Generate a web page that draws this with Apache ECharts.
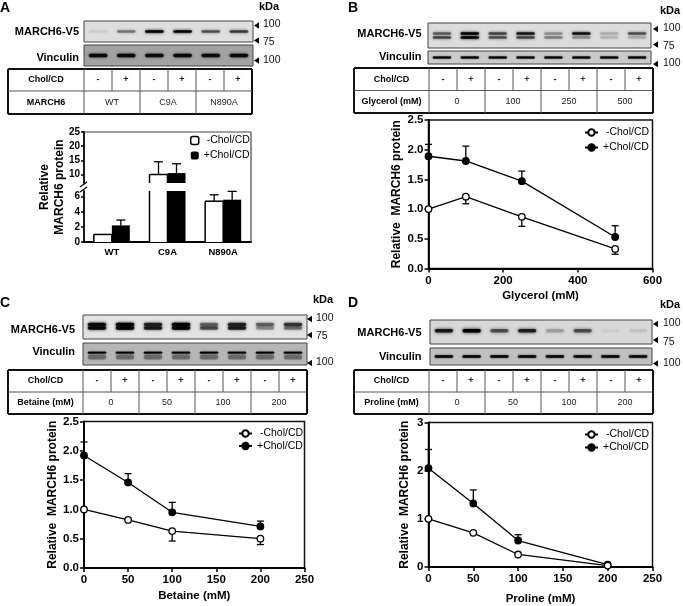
<!DOCTYPE html>
<html><head><meta charset="utf-8">
<style>html,body{margin:0;padding:0;background:#fff}#c{width:683px;height:606px}</style>
<script src="https://cdn.jsdelivr.net/npm/echarts@6/dist/echarts.min.js"></script>
</head><body><div id="c"></div>
<script>
// ---------- DATA ----------
const cholLabels = ['-', '+'];
const legendMinus = '-Chol/CD', legendPlus = '+Chol/CD';
// Panel A bars
const aCats = ['WT', 'C9A', 'N890A'];
const aMinus = [1, 10, 5.4];
const aPlus = [2.2, 10.5, 5.6];
const aMinusHigh = [null, 14.5, 6.25];
const aPlusHigh = [2.9, 13.8, 6.7];
// Panel B
const bX = [0, 100, 250, 500];
const bMinus = [1, 1.21, 0.87, 0.33];
const bPlus = [1.89, 1.81, 1.47, 0.53];
const bMinusErr = [null, 1.09, 0.71, 0.24];
const bPlusErr = [2.09, 2.06, 1.64, 0.72];
// Panel C
const cX = [0, 50, 100, 200];
const cMinus = [1, 0.82, 0.63, 0.5];
const cPlus = [1.92, 1.46, 0.95, 0.71];
const cMinusErr = [null, null, 0.46, 0.4];
const cPlusErr = [2.15, 1.61, 1.12, 0.8];
// Panel D
const dX = [0, 50, 100, 200];
const dMinus = [1, 0.71, 0.26, 0.03];
const dPlus = [2.05, 1.32, 0.55, 0.05];
const dMinusErr = [null, null, null, null];
const dPlusErr = [2.44, 1.6, 0.67, null];
// Blot band darkness per lane
const aMarch = [0.05, 0.35, 1, 0.95, 0.5, 0.6];
const aVinc = [0.85, 0.85, 0.8, 0.85, 0.8, 0.85];
const bMarchUp = [0.45, 1, 0.55, 0.8, 0.25, 0.85, 0.15, 0.5];
const bMarchLo = [0.55, 1, 0.5, 0.55, 0.3, 0.25, 0.12, 0.15];
const bVinc = [1, 1, 1, 1, 1, 1, 1, 1];
const cMarchUp = [0.85, 1, 0.7, 1, 0.4, 0.7, 0.4, 0.6];
const cMarchLo = [0.9, 1, 0.75, 1, 0.5, 0.75, 0.25, 0.35];
const cVinc = [1, 1, 1, 1, 1, 1, 1, 1];
const cVincLo = [0.25, 0.25, 0.25, 0.25, 0.25, 0.25, 0.25, 0.25];
const dMarch = [0.8, 1, 0.5, 0.75, 0.18, 0.5, 0.03, 0.06];
const dVinc = [0.9, 0.9, 0.9, 0.9, 0.9, 0.9, 0.9, 0.9];
// Tables
const aConds = ['WT', 'C9A', 'N890A'];
const bConds = ['0', '100', '250', '500'];
const cConds = ['0', '50', '100', '200'];
const dConds = ['0', '50', '100', '200'];

// ---------- OPTION BUILDERS ----------
const FF = '"Liberation Sans", Arial, sans-serif';
const grids = [], xAxes = [], yAxes = [], series = [], legends = [], g = [];

function text(x, y, s, font, align, color, rot) {
  g.push({ type: 'text', x, y, rotation: rot || 0, z: 50, silent: true,
    style: { text: s, font: font + ' ' + FF, fill: color || '#000', align: align || 'center', verticalAlign: 'middle' } });
}
function line(x1, y1, x2, y2, w, color) {
  g.push({ type: 'line', z: 40, silent: true, shape: { x1, y1, x2, y2 }, style: { stroke: color || '#111', lineWidth: w } });
}
function arrow(x, y) {
  g.push({ type: 'polygon', z: 40, silent: true, shape: { points: [[x, y], [x + 5, y - 3.2], [x + 5, y + 3.2]] }, style: { fill: '#000' } });
}

function blot(rect, bg, rows) {
  const gi = grids.length;
  grids.push({ left: rect[0], top: rect[1], width: rect[2] - rect[0], height: rect[3] - rect[1], show: true,
    backgroundColor: bg, borderColor: '#444', borderWidth: 1 });
  const n = rows[0].vals.length;
  xAxes.push({ gridIndex: gi, type: 'category', show: false, data: Array.from({ length: n }, (_, i) => i) });
  yAxes.push({ gridIndex: gi, type: 'value', show: false, min: 0, max: 1 });
  rows.forEach(r => {
    series.push({ type: 'custom', xAxisIndex: gi, yAxisIndex: gi, silent: true, z: 3,
      data: r.vals.map((v, i) => [i, r.y, v]),
      renderItem: (p, api) => {
        const c = api.coord([api.value(0), api.value(1)]);
        const w = api.size([1, 0])[0] * 0.66, h = r.h;
        return { type: 'rect', shape: { x: c[0] - w / 2, y: c[1] - h / 2, width: w, height: h, r: h / 2 },
          style: { fill: '#000', opacity: api.value(2), shadowBlur: r.blur, shadowColor: '#000' } };
      } });
  });
}

function errSeries(gi, items, off, cap) {
  return { type: 'custom', xAxisIndex: gi, yAxisIndex: gi, silent: true, z: 1, clip: false,
    data: items,
    renderItem: (p, api) => {
      const a = api.coord([api.value(0), api.value(1)]);
      const b = api.coord([api.value(0), api.value(2)]);
      const dx = off ? off : 0;
      const st = { stroke: '#000', lineWidth: 1.3, fill: null };
      return { type: 'group', children: [
        { type: 'line', shape: { x1: a[0] + dx, y1: a[1], x2: b[0] + dx, y2: b[1] }, style: st },
        { type: 'line', shape: { x1: b[0] + dx - cap, y1: b[1], x2: b[0] + dx + cap, y2: b[1] }, style: st }
      ] };
    } };
}

function table(L, colX, R, T, mid, B, labelRow2, conds) {
  const lane = (R - colX) / (conds.length * 2);
  line(L, T, R, T, 2); line(L, B, R, B, 2); line(L, T, L, B, 2); line(R, T, R, B, 2);
  line(L, mid, R, mid, 1, '#555'); line(colX, T, colX, B, 1, '#555');
  for (let i = 1; i < conds.length * 2; i++) {
    line(colX + i * lane, T, colX + i * lane, i % 2 ? mid : B, 1, '#555');
  }
  const cx = (L + colX) / 2;
  text(cx, (T + mid) / 2, 'Chol/CD', 'bold 9px');
  text(cx, (mid + B) / 2, labelRow2, 'bold 9px');
  conds.forEach((c, i) => {
    text(colX + (i * 2 + 0.5) * lane, (T + mid) / 2, cholLabels[0], 'bold 9px', 'center', '#222');
    text(colX + (i * 2 + 1.5) * lane, (T + mid) / 2, cholLabels[1], 'bold 9px', 'center', '#222');
    text(colX + (i * 2 + 1) * lane, (mid + B) / 2, c, '9px', 'center', '#222');
  });
}

const tickStyle = { show: true, length: 4, inside: false, lineStyle: { color: '#000', width: 1.5 } };
const lineStyle = { show: true, onZero: false, lineStyle: { color: '#000', width: 1.8 } };
const labelStyle = { color: '#000', fontFamily: FF, fontWeight: 'bold', fontSize: 11.5, margin: 6 };

function linePanel(id, rect, xs, minus, plus, minusErr, plusErr, xCfg, yCfg, xName, nameGapY, nameGapX, legendPos, legendGap) {
  const gi = grids.length;
  grids.push({ left: rect[0], top: rect[1], width: rect[2] - rect[0], height: rect[3] - rect[1], show: true,
    backgroundColor: 'transparent', borderColor: '#111', borderWidth: 1.5 });
  xAxes.push({ gridIndex: gi, type: 'value', min: 0, max: xCfg[0], interval: xCfg[1], splitLine: { show: false },
    axisLine: lineStyle, axisTick: tickStyle, axisLabel: labelStyle,
    name: xName, nameLocation: 'middle', nameGap: nameGapX,
    nameTextStyle: { color: '#000', fontFamily: FF, fontWeight: 'bold', fontSize: 11.5 } });
  yAxes.push({ gridIndex: gi, type: 'value', min: 0, max: yCfg[0], interval: yCfg[1], splitLine: { show: false },
    axisLine: lineStyle, axisTick: tickStyle,
    axisLabel: Object.assign({}, labelStyle, { margin: 5, formatter: v => yCfg[2] ? v.toFixed(yCfg[2]) : String(v) }),
    name: 'Relative  MARCH6 protein', nameLocation: 'middle', nameGap: nameGapY, nameRotate: 90, nameMoveOverlap: false,
    nameTextStyle: { color: '#000', fontFamily: FF, fontWeight: 'bold', fontSize: 12 } });
  const errs = (arr, v) => arr.map((e, i) => e === null ? null : [xs[i], v[i], e]).filter(Boolean);
  series.push(errSeries(gi, errs(minusErr, minus), 0, 3.5));
  series.push(errSeries(gi, errs(plusErr, plus), 0, 3.5));
  const mk = (nm, v, fill) => ({ name: id + '|' + nm, type: 'line', xAxisIndex: gi, yAxisIndex: gi, clip: false, z: fill === '#000' ? 3 : 4,
    data: xs.map((x, i) => [x, v[i]]), symbol: 'circle', symbolSize: 6.5, showSymbol: true,
    lineStyle: { color: '#000', width: 1.3 }, itemStyle: { color: fill, borderColor: '#000', borderWidth: 1.3 } });
  series.push(mk(legendMinus, minus, '#fff'));
  series.push(mk(legendPlus, plus, '#000'));
  legends.push({ orient: 'vertical', left: legendPos[0], top: legendPos[1], padding: 0, itemWidth: 13, itemHeight: 8, itemGap: legendGap,
    data: [id + '|' + legendMinus, id + '|' + legendPlus],
    formatter: n => { const t = n.split('|')[1]; return t === legendMinus ? ' ' + t : t; },
    textStyle: { color: '#000', fontFamily: FF, fontSize: 10.5 }, selectedMode: false });
}

// ---------- PANEL A ----------
blot([84, 21, 253, 42], '#dedede', [{ y: 0.5, h: 2.5, blur: 3, vals: aMarch }]);
blot([84, 45, 253, 66], '#a2a2a2', [{ y: 0.5, h: 3.5, blur: 2.5, vals: aVinc }]);
table(8, 84, 252, 69, 91, 114, 'MARCH6', aConds);

function barGrid(top, bottom, min, max, showX, customTicks) {
  const gi = grids.length;
  grids.push({ left: 84, top, width: 167, height: bottom - top });
  const aLabel = Object.assign({}, labelStyle, { fontSize: 10, margin: 4 });
  xAxes.push({ gridIndex: gi, type: 'category', data: aCats, show: showX,
    axisLine: lineStyle, axisTick: { show: false }, axisLabel: Object.assign({}, labelStyle, { fontSize: 9.5, margin: 5 }) });
  yAxes.push({ gridIndex: gi, type: 'value', min, max, splitLine: { show: false },
    interval: customTicks ? undefined : 2,
    axisLine: lineStyle,
    axisTick: Object.assign({}, tickStyle, { length: 3 }, customTicks ? { customValues: customTicks } : {}),
    axisLabel: Object.assign({}, aLabel, customTicks ? { customValues: customTicks } : {}) });
  const mk = (nm, v, fill) => ({ name: 'A|' + nm, type: 'bar', xAxisIndex: gi, yAxisIndex: gi, data: v, barWidth: 18, barGap: '0%', z: 2,
    itemStyle: { color: fill, borderWidth: 0 } });
  series.push(mk(legendMinus, aMinus, '#fff'));
  series.push(mk(legendPlus, aPlus, '#000'));
  // outline of the white bars: open where a bar runs across the axis break
  series.push({ type: 'custom', xAxisIndex: gi, yAxisIndex: gi, silent: true, z: 3, clip: false,
    data: aMinus.map((v, i) => [i, v]),
    renderItem: (p, api) => {
      const v = api.value(1);
      if (v < min) return null;
      const c0 = api.coord([api.value(0), Math.max(min, 0)]), c1 = api.coord([api.value(0), Math.min(v, max)]);
      const xl = c0[0] - 18, xr = c0[0], st = { stroke: '#000', lineWidth: 1.5, fill: null };
      const ch = [
        { type: 'line', shape: { x1: xl, y1: c0[1], x2: xl, y2: c1[1] }, style: st },
        { type: 'line', shape: { x1: xr, y1: c0[1], x2: xr, y2: c1[1] }, style: st }];
      if (v <= max) ch.push({ type: 'line', shape: { x1: xl, y1: c1[1], x2: xr, y2: c1[1] }, style: st });
      return { type: 'group', children: ch };
    } });
  const inRange = h => h !== null && h >= min && h <= max;
  const items = (hs, v) => hs.map((h, i) => inRange(h) ? [i, v[i], h] : null).filter(Boolean);
  series.push(errSeries(gi, items(aMinusHigh, aMinus), -9, 4.5));
  series.push(errSeries(gi, items(aPlusHigh, aPlus), 9, 4.5));
}
barGrid(191, 242, 0, 6.75, true, null);
barGrid(132, 183, 7, 25, false, [10, 15, 20, 25]);
legends.push({ orient: 'vertical', left: 190, top: 135, padding: 0, itemWidth: 8, itemHeight: 8, itemGap: 4,
  data: [{ name: 'A|' + legendMinus, itemStyle: { color: '#fff', borderColor: '#000', borderWidth: 1.5 } }, { name: 'A|' + legendPlus }],
  formatter: n => { const t = n.split('|')[1]; return t === legendMinus ? ' ' + t : t; },
  textStyle: { color: '#000', fontFamily: FF, fontSize: 10.5 }, selectedMode: false });
line(84, 132, 251, 132, 1.2, '#444'); line(251, 132, 251, 242, 1.2, '#444');
line(80, 187, 87, 182, 1.2, '#000'); line(80, 192, 87, 187, 1.2, '#000');
text(45, 187, 'Relative', 'bold 12px', 'center', '#000', Math.PI / 2);
text(60, 187, 'MARCH6 protein', 'bold 12px', 'center', '#000', Math.PI / 2);

// ---------- PANEL B ----------
blot([428, 23, 651, 48], '#dcdcdc', [{ y: 0.58, h: 2.5, blur: 3, vals: bMarchUp }, { y: 0.42, h: 2.5, blur: 3, vals: bMarchLo }]);
blot([428, 51, 651, 64], '#cacaca', [{ y: 0.5, h: 2, blur: 1.5, vals: bVinc }]);
table(354, 429, 653, 68, 90.5, 113, 'Glycerol (mM)', bConds);
linePanel('B', [428.5, 120, 652.5, 268.5], bX, bMinus, bPlus, bMinusErr, bPlusErr, [600, 200], [2.5, 0.5, 1], 'Glycerol (mM)', 26, 21, [584, 127], 4);

// ---------- PANEL C ----------
blot([83, 315, 307, 339], '#e2e2e2', [{ y: 0.6, h: 3.5, blur: 3, vals: cMarchUp }, { y: 0.46, h: 3.5, blur: 3, vals: cMarchLo }]);
blot([83, 343, 307, 365], '#b6b6b6', [{ y: 0.56, h: 1.8, blur: 1.5, vals: cVinc }, { y: 0.36, h: 5, blur: 2, vals: cVincLo }]);
table(8, 83, 307, 370, 392, 414, 'Betaine (mM)', cConds);
linePanel('C', [84, 421.5, 304.5, 568], cX, cMinus, cPlus, cMinusErr, cPlusErr, [250, 50], [2.5, 0.5, 1], 'Betaine (mM)', 25, 22, [238, 428], 1.5);

// ---------- PANEL D ----------
blot([430, 320, 652, 344], '#d8d8d8', [{ y: 0.55, h: 3.5, blur: 3.5, vals: dMarch }]);
blot([430, 348, 652, 365], '#c0c0c0', [{ y: 0.5, h: 2.5, blur: 2, vals: dVinc }]);
table(354, 429, 653, 370, 392, 414, 'Proline (mM)', dConds);
linePanel('D', [428.5, 422.5, 652.5, 571.5], dX, dMinus, dPlus, dMinusErr, dPlusErr, [250, 50], [3, 1, 0], 'Proline (mM)', 18, 26, [584, 429], 2);

// ---------- LABELS & MARKERS ----------
const LB = 'bold 11px';
text(0, 8, 'A', 'bold 14px', 'left'); text(348, 8, 'B', 'bold 14px', 'left');
text(0, 303, 'C', 'bold 14px', 'left'); text(348, 303, 'D', 'bold 14px', 'left');
text(269, 6.5, 'kDa', 'bold 11px'); text(670, 11, 'kDa', 'bold 11px');
text(323, 300, 'kDa', 'bold 11px'); text(670, 305, 'kDa', 'bold 11px');
text(79, 32, 'MARCH6-V5', LB, 'right'); text(79, 58, 'Vinculin', LB, 'right');
text(421.5, 34, 'MARCH6-V5', LB, 'right'); text(421.5, 57, 'Vinculin', LB, 'right');
text(75, 329.5, 'MARCH6-V5', LB, 'right'); text(75, 352, 'Vinculin', LB, 'right');
text(421.5, 332.5, 'MARCH6-V5', LB, 'right'); text(421.5, 356.5, 'Vinculin', LB, 'right');
[[254, 25.5, 263, '100', 24.5], [254, 40.5, 263, '75', 42], [254, 60.5, 263, '100', 60],
 [653, 29, 663, '100', 28.5], [653, 44.5, 663, '75', 46], [653, 64, 663, '100', 63],
 [307, 319, 316, '100', 318.5], [307, 335, 316, '75', 336], [307, 363, 316, '100', 362.5],
 [653, 324, 663, '100', 323.5], [653, 340, 663, '75', 342], [653, 363.5, 663, '100', 363]
].forEach(a => { arrow(a[0], a[1]); text(a[2], a[4], a[3], '10.5px', 'left', '#111'); });

const chart = echarts.init(document.getElementById('c'), null, { renderer: 'canvas' });
chart.setOption({ animation: false, backgroundColor: '#fff', tooltip: { show: false },
  grid: grids, xAxis: xAxes, yAxis: yAxes, series, legend: legends, graphic: { elements: g } });
</script></body></html>
